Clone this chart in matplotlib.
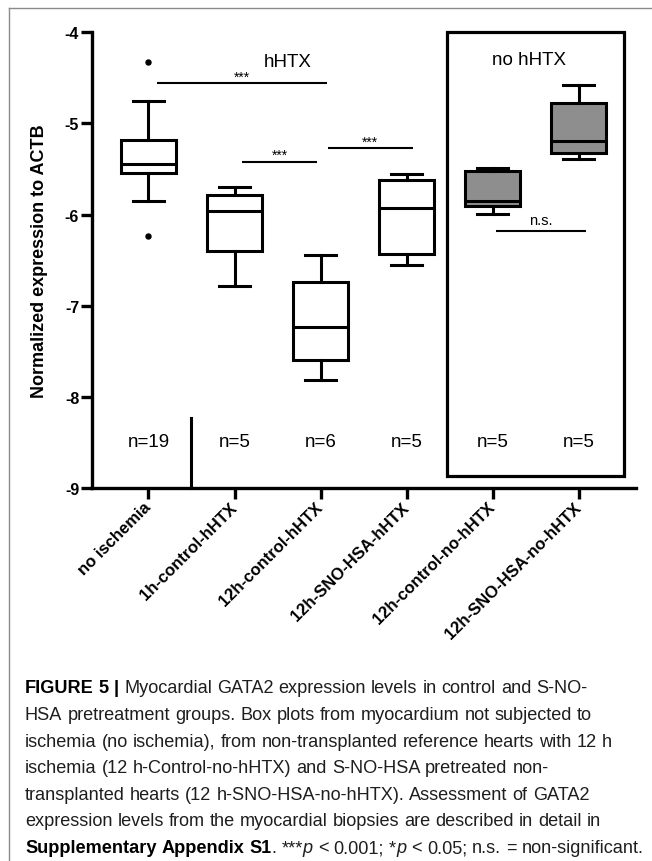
import matplotlib
matplotlib.use("Agg")
import matplotlib.pyplot as plt
from matplotlib import font_manager
from matplotlib.patches import Rectangle
from matplotlib.lines import Line2D

# ---- data -----------------------------------------------------------------
groups = ["no ischemia", "1h-control-hHTX", "12h-control-hHTX",
          "12h-SNO-HSA-hHTX", "12h-control-no-hHTX", "12h-SNO-HSA-no-hHTX"]
n_labels = ["n=19", "n=5", "n=6", "n=5", "n=5", "n=5"]
whisker_low = [-5.85, -6.78, -7.81, -6.55, -5.99, -5.39]
q1 = [-5.54, -6.40, -7.60, -6.43, -5.91, -5.32]
median = [-5.45, -5.96, -7.23, -5.93, -5.85, -5.19]
q3 = [-5.18, -5.79, -6.74, -5.62, -5.52, -4.78]
whisker_high = [-4.75, -5.70, -6.44, -5.56, -5.49, -4.58]
outliers = [[-4.33, -6.24], [], [], [], [], []]
filled = [False, False, False, False, True, True]

# significance brackets: (x start, x end, y, label)
brackets = [(0.10, 2.07, -4.56, "***"),
            (1.09, 1.96, -5.42, "***"),
            (2.08, 3.07, -5.27, "***"),
            (4.04, 5.08, -6.18, "n.s.")]
yticks = [-4, -5, -6, -7, -8, -9]

W, H = 652, 862
fig = plt.figure(figsize=(W / 100, H / 100), dpi=100)
ax = fig.add_axes([91.7 / W, 1 - 489 / H, (636 - 91.7) / W, (489 - 33.3) / H])

sans = "Liberation Sans"
names = {f.name for f in font_manager.fontManager.ttflist}
cap_family = "Liberation Sans Narrow" if "Liberation Sans Narrow" in names else sans

# ---- boxes ----------------------------------------------------------------
stats = []
for i in range(len(groups)):
    stats.append(dict(whislo=whisker_low[i], q1=q1[i], med=median[i], q3=q3[i],
                      whishi=whisker_high[i], fliers=outliers[i], label=groups[i]))
lw = 2.2
for i, s in enumerate(stats):
    face = "#8e8e8e" if filled[i] else "white"
    ax.bxp([s], positions=[i], widths=0.64, patch_artist=True, showfliers=True,
           boxprops=dict(facecolor=face, edgecolor="black", linewidth=lw),
           medianprops=dict(color="black", linewidth=lw),
           whiskerprops=dict(color="black", linewidth=lw),
           capprops=dict(color="black", linewidth=lw),
           capwidths=0.36,
           flierprops=dict(marker="o", markersize=3.6, markerfacecolor="black",
                           markeredgecolor="black"))

ax.set_xlim(-0.659, 5.663)
ax.set_ylim(-9, -4)

for sp in ["top", "right"]:
    ax.spines[sp].set_visible(False)
for sp in ["left", "bottom"]:
    ax.spines[sp].set_linewidth(2.4)

ax.set_yticks(yticks)
ax.set_yticklabels([str(v) for v in yticks], fontfamily=sans, fontweight="bold",
                   fontsize=11.5)
ax.set_xticks(range(len(groups)))
ax.set_xticklabels(groups, rotation=45, ha="right", va="center",
                   rotation_mode="anchor", fontfamily=sans, fontweight="bold",
                   fontsize=12)
ax.tick_params(axis="both", direction="out", length=8, width=2.4, pad=1)
ax.tick_params(axis="x", pad=4)

# significance brackets
for x0, x1, y, lab in brackets:
    ax.plot([x0, x1], [y, y], color="black", linewidth=1.5, solid_capstyle="butt")
    if lab == "***":
        ax.text((x0 + x1) / 2, y + 0.03, lab, ha="center", va="baseline",
                fontsize=10, fontfamily=sans)
    else:
        ax.text((x0 + x1) / 2, y + 0.08, lab, ha="center", va="baseline",
                fontsize=10.5, fontfamily=sans)

# group annotations
ax.text(1.62, -4.32, "hHTX", ha="center", va="center", fontsize=13.5, fontfamily=sans)
ax.text(4.42, -4.30, "no hHTX", ha="center", va="center", fontsize=13.5,
        fontfamily=sans)
for i, lab in enumerate(n_labels):
    ax.text(i, -8.49, lab, ha="center", va="center", fontsize=13.5, fontfamily=sans)

# frame around the non-transplanted groups and the separator after the reference group
ax.add_patch(Rectangle((3.47, -8.87), 5.52 - 3.47, -4 - (-8.87), fill=False,
                       edgecolor="black", linewidth=2.3, clip_on=False, zorder=3))
ax.plot([0.5, 0.5], [-8.23, -9], color="black", linewidth=2.2, clip_on=False)

fig.text(40 / W, 1 - 261 / H, "Normalized expression to ACTB", rotation=90,
         ha="center", va="center", fontsize=13, fontweight="bold", fontfamily=sans)

# figure panel border (top and left)
fig.add_artist(Line2D([9 / W, 1], [1 - 9 / H, 1 - 9 / H], color="#8a8a8a",
                      linewidth=1.0, transform=fig.transFigure))
fig.add_artist(Line2D([9 / W, 9 / W], [1 - 9 / H, 0], color="#8a8a8a",
                      linewidth=1.0, transform=fig.transFigure))

# ---- caption --------------------------------------------------------------
REG, BOLD, ITAL = "r", "b", "i"
caption = [
    [("FIGURE 5 |", BOLD), (" Myocardial GATA2 expression levels in control and S-NO-", REG)],
    [("HSA pretreatment groups. Box plots from myocardium not subjected to", REG)],
    [("ischemia (no ischemia), from non-transplanted reference hearts with 12 h", REG)],
    [("ischemia (12 h-Control-no-hHTX) and S-NO-HSA pretreated non-", REG)],
    [("transplanted hearts (12 h-SNO-HSA-no-hHTX). Assessment of GATA2", REG)],
    [("expression levels from the myocardial biopsies are described in detail in", REG)],
    [("Supplementary Appendix S1", BOLD), (". ***", REG), ("p", ITAL),
     (" < 0.001; *", REG), ("p", ITAL), (" < 0.05; n.s. = non-significant.", REG)],
]


def style_kw(style, size):
    kw = dict(fontfamily=cap_family, fontsize=size, color="#1e1e1e")
    if style == BOLD:
        kw.update(fontweight="bold", color="black")
    elif style == ITAL:
        kw.update(fontstyle="italic")
    return kw


fig.canvas.draw()
renderer = fig.canvas.get_renderer()


def text_width(s, kw):
    t = fig.text(0, 0, s, **kw)
    w = t.get_window_extent(renderer).width
    t.remove()
    return w


def draw_line(x0, base_y, runs, size, collect):
    x = x0
    for text, style in runs:
        kw = style_kw(style, size)
        space = text_width("a a", kw) - text_width("aa", kw)
        for k, word in enumerate(text.split(" ")):
            if k > 0:
                x += space
            if word == "":
                continue
            t = fig.text(x / W, 1 - base_y / H, word, ha="left", va="baseline", **kw)
            collect.append(t)
            x += t.get_window_extent(renderer).width
    return x - x0


# pick the caption size so the last line spans the text block width
probe = []
w_last = draw_line(25, 853, caption[-1], 12, probe)
for t in probe:
    t.remove()
cap_size = 12 * 617 / w_last

drawn = []
for k, runs in enumerate(caption):
    draw_line(25, 693.5 + k * 26.6, runs, cap_size, drawn)

fig.savefig("out.png", dpi=100)
